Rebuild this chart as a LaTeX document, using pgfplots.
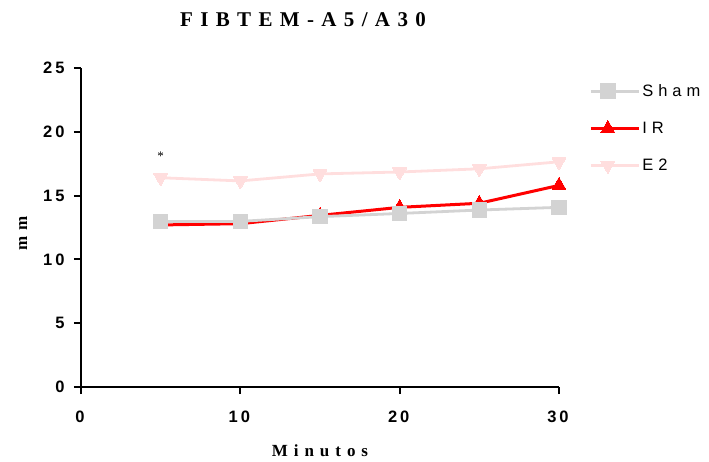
\documentclass[border=0pt]{standalone}
\usepackage{fontspec}
\setmainfont{Liberation Serif}
\newfontfamily\tickfont[LetterSpace=18]{Liberation Sans}
\newfontfamily\legfont[LetterSpace=30]{Liberation Sans}
\newfontfamily\titlefont[LetterSpace=35]{Liberation Serif}
\newcommand{\tickstyle}{\tickfont\bfseries\fontsize{16.5}{16.5}\selectfont}
\usepackage{pgfplots}
\pgfplotsset{compat=1.18}
\definecolor{shamgray}{RGB}{211,211,211}
\definecolor{e2pink}{RGB}{255,222,222}
\definecolor{irred}{RGB}{255,0,0}
\begin{document}
\begin{tikzpicture}
\begin{axis}[
  scale only axis, width=478pt, height=319pt,
  xmin=0, xmax=30, ymin=0, ymax=25,
  axis x line*=bottom, axis y line*=left,
  axis line style={line width=2.2pt, black},
  xtick={0,10,20,30}, ytick={0,5,10,15,20,25},
  tick align=outside, major tick length=7pt,
  tick style={line width=2pt, black},
  xticklabel={\tickstyle\pgfmathprintnumber[assume math mode=true]{\tick}},
  yticklabel={\tickstyle\pgfmathprintnumber[assume math mode=true]{\tick}},
  xticklabel style={yshift=-13pt, xshift=-1pt},
  yticklabel style={xshift=-6pt},
  xlabel={Minutos}, ylabel={mm},
  every axis x label/.style={at={(rel axis cs:0.5,0)}, yshift=-64pt, anchor=center,
    font=\titlefont\bfseries\fontsize{17}{17}\selectfont},
  every axis y label/.style={at={(rel axis cs:0,0.482)}, xshift=-58pt, anchor=center, rotate=90,
    font=\titlefont\bfseries\fontsize{17}{17}\selectfont},
  clip=false,
  legend style={at={(rel axis cs:1.063,0.955)}, anchor=north west, draw=none, fill=none,
    font=\legfont\fontsize{16.5}{16.5}\selectfont, row sep=20pt, inner sep=0pt},
  legend cell align=left,
  legend image code/.code={%
    \draw[#1, mark repeat=2, mark phase=2] plot coordinates {(0pt,0pt) (17pt,0pt) (34pt,0pt)};
    \path (34pt,0pt) -- (48pt,0pt);},
  reverse legend,
]
\addplot[e2pink, line width=2.8pt, mark=triangle*, mark size=8pt, mark options={solid, line width=0pt, rotate=180}]
  coordinates {(5,16.4) (10,16.15) (15,16.7) (20,16.85) (25,17.1) (30,17.65)};
\addlegendentry{E2}
\addplot[irred, line width=3pt, mark=triangle*, mark size=8pt, mark options={solid, line width=0pt}]
  coordinates {(5,12.7) (10,12.8) (15,13.45) (20,14.08) (25,14.4) (30,15.8)};
\addlegendentry{IR}
\addplot[shamgray, line width=2.8pt, mark=square*, mark size=7.3pt, mark options={solid, line width=0pt}]
  coordinates {(5,12.96) (10,12.98) (15,13.35) (20,13.6) (25,13.87) (30,14.08)};
\addlegendentry{Sham}
\node[font=\fontsize{13}{13}\selectfont] at (axis cs:5,18.1) {*};
\end{axis}
\node[font=\titlefont\bfseries\fontsize{21}{21}\selectfont] at ([xshift=222pt, yshift=48pt]current axis.north west) {FIBTEM-A5/A30};
\path (current axis.south west) ++(-81pt,-74pt) rectangle ++(709pt,461pt);
\end{tikzpicture}
\end{document}
